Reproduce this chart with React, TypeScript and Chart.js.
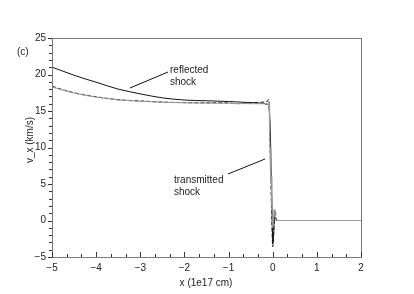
import React, { useEffect, useRef } from "react";
import { Chart, registerables } from "chart.js";
Chart.register(...registerables);

const xTicks = [-5, -4, -3, -2, -1, 0, 1, 2];
const yTicks = [-5, 0, 5, 10, 15, 20, 25];

const solidX = [-5, -4.75, -4.5, -4.25, -4, -3.75, -3.5, -3.25, -3, -2.75, -2.5, -2, -1.5, -1, -0.5, -0.25, -0.12, -0.08, -0.05, -0.03, -0.01, 0.0, 0.02, 0.04, 0.06, 0.1];
const solidY = [21.0, 20.45, 19.9, 19.4, 18.95, 18.45, 18.0, 17.65, 17.35, 17.05, 16.8, 16.5, 16.4, 16.3, 16.15, 16.05, 15.9, 15.3, 11, 5, 0, -3.2, -2, 0.5, 0.3, 0];

const dashX = [-5, -4.75, -4.5, -4.25, -4, -3.5, -3, -2.5, -2, -1.5, -1, -0.85, -0.5, -0.28, -0.12, -0.1, -0.08, -0.06, -0.04, -0.02, 0.0, 0.02, 0.04, 0.06, 0.08];
const dashY = [18.4, 17.9, 17.5, 17.2, 16.95, 16.55, 16.38, 16.22, 16.15, 16.12, 16.1, 16.0, 16.1, 16.2, 16.3, 16.6, 16.0, 11, 5, 0, -3.6, -2, 0.8, 1.2, 0];

const grayX = [-5, -4.75, -4.5, -4.25, -4, -3.5, -3, -2.5, -2, -1.5, -1, -0.5, -0.2, -0.12, -0.08, -0.07, -0.06, -0.05, -0.04, -0.03, -0.02, 0.0, 0.03, 0.05, 0.08, 0.12, 2];
const grayY = [18.3, 17.85, 17.45, 17.15, 16.9, 16.5, 16.33, 16.2, 16.12, 16.08, 16.05, 16.0, 16.0, 16.0, 15.6, 12, 9, 10, 5, 6, 2, -1, 1.5, 0.5, 0.2, 0, 0];

const xTitle = "x (1e17 cm)";
const yTitle = "v_x (km/s)";
const panelLabel = "(c)";
const annReflected = ["reflected", "shock"];
const annTransmitted = ["transmitted", "shock"];

const FONT = "'Liberation Sans', Arial, sans-serif";

const toPts = (xs: number[], ys: number[]) => xs.map((x, i) => ({ x, y: ys[i] }));
const fmt = (v: number) => (v < 0 ? "\u2212" + Math.abs(v) : String(v));

const decor = {
  id: "decor",
  afterDraw(chart: any) {
    const ctx = chart.ctx;
    const { left, right, top, bottom } = chart.chartArea;
    const xs = chart.scales.x;
    const ys = chart.scales.y;
    ctx.save();
    ctx.strokeStyle = "#7a7a7a";
    ctx.lineWidth = 1;
    ctx.strokeRect(Math.round(left) + 0.5, Math.round(top) + 0.5, Math.round(right - left), Math.round(bottom - top));
    ctx.strokeStyle = "#333";
    for (let k = -15; k <= 6; k++) {
      const v = k / 3;
      const px = Math.round(xs.getPixelForValue(v)) + 0.5;
      const major = k % 3 === 0;
      ctx.beginPath();
      ctx.moveTo(px, bottom);
      ctx.lineTo(px, bottom - (major ? 5 : 3));
      ctx.stroke();
    }
    for (let v = -5; v <= 25; v++) {
      const py = Math.round(ys.getPixelForValue(v)) + 0.5;
      const major = v % 5 === 0;
      ctx.beginPath();
      ctx.moveTo(left, py);
      ctx.lineTo(left - (major ? 4 : 3), py);
      ctx.stroke();
    }
    ctx.fillStyle = "#222";
    ctx.font = "10px " + FONT;
    ctx.textAlign = "center";
    ctx.textBaseline = "middle";
    ctx.fillText(xTitle, 206, 283);
    ctx.save();
    ctx.translate(30, 140);
    ctx.rotate(-Math.PI / 2);
    ctx.fillText(yTitle, 0, 0);
    ctx.restore();
    ctx.textAlign = "left";
    ctx.fillText(panelLabel, 17, 52);
    ctx.fillText(annReflected[0], 170, 70);
    ctx.fillText(annReflected[1], 170, 82);
    ctx.fillText(annTransmitted[0], 174, 180);
    ctx.fillText(annTransmitted[1], 174, 192);
    ctx.strokeStyle = "#111";
    ctx.beginPath();
    ctx.moveTo(130, 88);
    ctx.lineTo(168, 72);
    ctx.moveTo(228, 174);
    ctx.lineTo(265, 159);
    ctx.stroke();
    ctx.restore();
  },
};

export default function App() {
  const ref = useRef<HTMLCanvasElement>(null);
  useEffect(() => {
    document.body.style.margin = "0";
    const chart = new Chart(ref.current!, {
      type: "scatter",
      data: {
        datasets: [
          { data: toPts(grayX, grayY), showLine: true, borderColor: "#9a9a9a", borderWidth: 1, pointRadius: 0, tension: 0 },
          { data: toPts(dashX, dashY), showLine: true, borderColor: "#111", borderWidth: 1, borderDash: [4, 2], pointRadius: 0, cubicInterpolationMode: "monotone" },
          { data: toPts(solidX, solidY), showLine: true, borderColor: "#111", borderWidth: 1, pointRadius: 0, cubicInterpolationMode: "monotone" },
        ],
      },
      options: {
        animation: false,
        responsive: false,
        layout: { padding: { left: 0, top: 38, right: 53, bottom: 0 } },
        plugins: { legend: { display: false }, tooltip: { enabled: false } },
        scales: {
          x: {
            type: "linear",
            min: -5,
            max: 2,
            afterBuildTicks: (s: any) => { s.ticks = xTicks.map((v) => ({ value: v })); },
            afterFit: (s: any) => { s.height = 37; },
            grid: { display: true, drawOnChartArea: false, drawTicks: false, color: "rgba(0,0,0,0)" },
            border: { display: false },
            ticks: { padding: 5, color: "#222", font: { family: FONT, size: 10 }, maxRotation: 0, callback: (v: any) => fmt(Number(v)) },
          },
          y: {
            type: "linear",
            min: -5,
            max: 25,
            afterBuildTicks: (s: any) => { s.ticks = yTicks.map((v) => ({ value: v })); },
            afterFit: (s: any) => { s.width = 52; },
            grid: { display: true, drawOnChartArea: false, drawTicks: false, color: "rgba(0,0,0,0)" },
            border: { display: false },
            ticks: { padding: 6, color: "#222", font: { family: FONT, size: 10 }, callback: (v: any) => fmt(Number(v)) },
          },
        },
      },
      plugins: [decor],
    });
    return () => chart.destroy();
  }, []);
  return <canvas ref={ref} width={414} height={294} style={{ display: "block" }} />;
}
